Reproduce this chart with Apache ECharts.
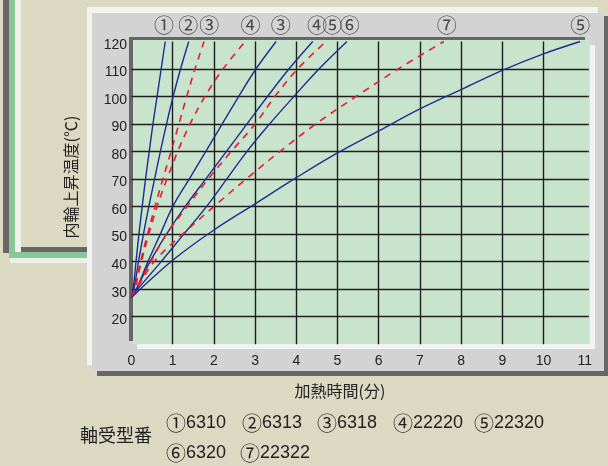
<!DOCTYPE html>
<html><head><meta charset="utf-8">
<script src="https://cdn.jsdelivr.net/npm/echarts@6/dist/echarts.min.js"></script>
<style>html,body{margin:0;padding:0;background:#dcd9c3;overflow:hidden}#c{width:608px;height:466px;}</style>
</head><body><div id="c"></div>
<script>
// ---- data (time [min], temperature [°C]) ----
const xGridTicks = [1,2,3,4,5,6,7,8,9,10];
const yGridTicks = [20,30,40,50,60,70,80,90,100,110];
const solid1_6310  = [[0,27],[0.04,30],[0.11,40],[0.18,50],[0.26,60],[0.34,70],[0.43,80],[0.52,90],[0.62,100],[0.72,110],[0.82,120]];
const solid2_6313  = [[0,27],[0.06,30],[0.17,40],[0.29,50],[0.42,60],[0.56,70],[0.70,80],[0.85,90],[1.01,100],[1.19,110],[1.39,120]];
const dash3_6318   = [[0,27],[0.07,30],[0.22,40],[0.39,50],[0.57,60],[0.76,70],[0.96,80],[1.15,90],[1.34,100],[1.54,110],[1.76,120]];
const dash4_22220  = [[0,27],[0.08,30],[0.24,40],[0.42,50],[0.62,60],[0.86,70],[1.12,80],[1.42,90],[1.78,100],[2.22,110],[2.76,120]];
const solid3_6318  = [[0,27],[0.12,30],[0.40,40],[0.70,50],[1.00,60],[1.40,70],[1.80,80],[2.20,90],[2.60,100],[3.02,110],[3.51,120]];
const solid4_22220 = [[0,27],[0.12,30],[0.45,40],[0.85,50],[1.30,60],[1.80,70],[2.30,80],[2.80,90],[3.30,100],[3.82,110],[4.40,120]];
const dash5_22320  = [[0,27],[0.10,30],[0.47,40],[0.85,50],[1.35,60],[1.86,70],[2.42,80],[3.00,90],[3.48,100],[4.03,110],[4.72,120]];
const solid6_6320  = [[0,27],[0.15,30],[0.72,40],[1.27,50],[1.82,60],[2.31,70],[2.80,80],[3.35,90],[3.94,100],[4.55,110],[5.23,120]];
const dash7_22322  = [[0,27],[0.12,30],[0.55,40],[1.24,50],[2.00,60],[2.78,70],[3.60,80],[4.47,90],[5.45,100],[6.47,110],[7.58,120]];
const solid5_22320 = [[0,27],[1,40.5],[2,51.5],[3,61],[4,70.5],[5,79.5],[6,87.5],[7,95.5],[8,102.5],[9,109.5],[10,115.5],[10.89,120]];
const topLabelText = ['①','②','③','④','③','④','⑤','⑥','⑦','⑤'];
const topLabelX    = [0.79,1.38,1.89,2.89,3.62,4.50,4.87,5.30,7.65,10.89];
const legendMarks1 = ['①','②','③','④','⑤'];
const legendCodes1 = ['6310','6313','6318','22220','22320'];
const legendMarks2 = ['⑥','⑦'];
const legendCodes2 = ['6320','22322'];

const NAVY = '#1f2b8f', RED = '#ec1a2e';
const latin = '"Liberation Sans","Noto Sans CJK JP",sans-serif';
const cjk = '"Noto Sans CJK JP","Liberation Sans",sans-serif';

function line(name, data, dashed){
  return {
    name, type:'line', data, smooth:0.35, symbol:'none', silent:true, animation:false, z:5,
    lineStyle: dashed ? {color:RED, width:1.6, type:[7,6]} : {color:NAVY, width:1.4}
  };
}

const chart = echarts.init(document.getElementById('c'), null, {renderer:'canvas'});
const legendX1 = [166, 242, 317, 393, 474];
const legendX2 = [166, 240];
const legendRich = {c:{fontSize:20, fontFamily:cjk, fill:'#222'}, d:{fontSize:18, fontFamily:latin, fill:'#222'}};
const graphics = [
  // left decorative frame
  {type:'rect', z:-20, shape:{x:3,y:0,width:6,height:253}, style:{fill:'#666666'}},
  {type:'rect', z:-20, shape:{x:9,y:0,width:6,height:258}, style:{fill:'#88c898'}},
  {type:'rect', z:-20, shape:{x:9,y:252,width:80,height:6}, style:{fill:'#88c898'}},
  {type:'rect', z:-20, shape:{x:15,y:0,width:6,height:252}, style:{fill:'#f0f0ea'}},
  {type:'rect', z:-20, shape:{x:10,y:258,width:79,height:5}, style:{fill:'#f0f0ea'}},
  {type:'rect', z:-20, shape:{x:21,y:247,width:68,height:5}, style:{fill:'#666666'}},
  // main panel
  {type:'rect', z:-19, shape:{x:97,y:16,width:515,height:360}, style:{fill:'#666666'}},
  {type:'rect', z:-18, shape:{x:87,y:7,width:511,height:358}, style:{fill:'#f2f2f2'}},
  {type:'rect', z:-17, shape:{x:92,y:13,width:512,height:358}, style:{fill:'#d3d3d3'}},
  // plot area
  {type:'rect', z:-16, shape:{x:137,y:45,width:458,height:304}, style:{fill:'#f2f2f2'}},
  {type:'rect', z:-15, shape:{x:129,y:37,width:456,height:304}, style:{fill:'#666666'}},
  {type:'rect', z:-14, shape:{x:133,y:40,width:457,height:304}, style:{fill:'#c8e4cc'}},
  // axis names
  {type:'text', x:70.5, y:177, rotation:Math.PI/2, style:{text:'内輪上昇温度(℃)', font:'16px '+cjk, fill:'#222', align:'center', verticalAlign:'middle'}},
  {type:'text', x:340, y:391, style:{text:'加熱時間(分)', font:'16px '+cjk, fill:'#222', align:'center', verticalAlign:'middle'}},
  {type:'text', x:80, y:435, style:{text:'軸受型番', font:'18px '+cjk, fill:'#222', align:'left', verticalAlign:'middle'}},
];
legendCodes1.forEach((t,i)=>graphics.push({type:'text', x:legendX1[i], y:423, style:{text:'{c|'+legendMarks1[i]+'}{d|'+t+'}', rich:legendRich, align:'left', verticalAlign:'middle'}}));
legendCodes2.forEach((t,i)=>graphics.push({type:'text', x:legendX2[i], y:453, style:{text:'{c|'+legendMarks2[i]+'}{d|'+t+'}', rich:legendRich, align:'left', verticalAlign:'middle'}}));

chart.setOption({
  animation:false,
  grid:{left:131.5, top:41.5, width:457.3, height:302.7, containLabel:false},
  xAxis:{type:'value', min:0, max:11.1, interval:1, showMaxLabel:false,
    axisLine:{show:false}, axisTick:{show:false}, splitLine:{show:false},
    axisLabel:{margin:10, color:'#222', fontSize:14, fontFamily:latin, formatter:v=>Number.isInteger(v)?String(v):''}},
  yAxis:{type:'value', min:10, max:120, interval:10,
    axisLine:{show:false}, axisTick:{show:false}, splitLine:{show:false},
    axisLabel:{margin:4.5, color:'#222', fontSize:14, fontFamily:latin,
      formatter:v=>v===10?'':'{a|'+v+'}',
      rich:{a:{padding:[7,0,0,0], fontSize:14, fontFamily:latin, color:'#222'}}}},
  graphic:{elements:graphics},
  series:[
    {type:'line', data:[], silent:true, z:3,
      markLine:{silent:true, symbol:['none','none'], label:{show:false}, animation:false,
        lineStyle:{color:'#1e1e1e', width:1.4, type:'solid'},
        data: xGridTicks.map(v=>({xAxis:v})).concat(yGridTicks.map(v=>({yAxis:v})))}},
    line('① 6310', solid1_6310, false),
    line('② 6313', solid2_6313, false),
    line('③ 6318 (dashed)', dash3_6318, true),
    line('④ 22220 (dashed)', dash4_22220, true),
    line('③ 6318', solid3_6318, false),
    line('④ 22220', solid4_22220, false),
    line('⑤ 22320 (dashed)', dash5_22320, true),
    line('⑥ 6320', solid6_6320, false),
    line('⑦ 22322 (dashed)', dash7_22322, true),
    line('⑤ 22320', solid5_22320, false),
    {type:'scatter', symbolSize:0, silent:true, z:6, clip:false,
      data: topLabelX.map((x,i)=>({value:[x,120], label:{formatter:topLabelText[i]}})),
      label:{show:true, position:'top', distance:6, color:'#222', fontSize:20, fontFamily:cjk}}
  ]
});
</script></body></html>
